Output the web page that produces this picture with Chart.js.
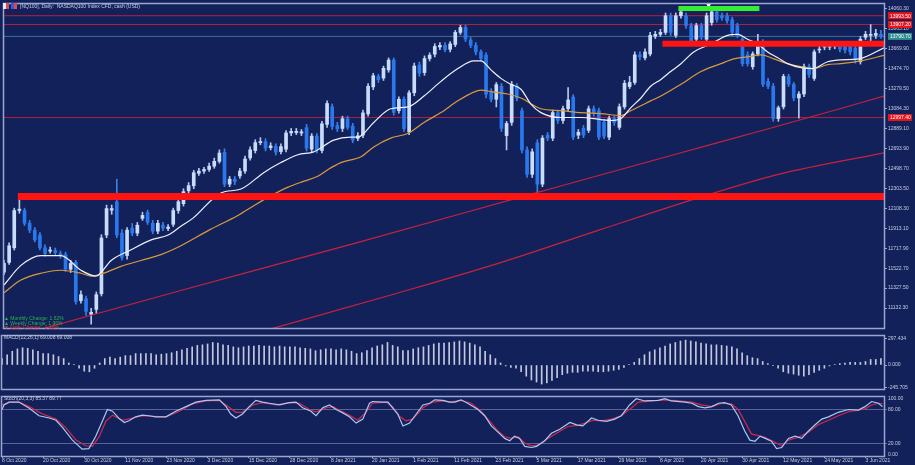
<!DOCTYPE html>
<html>
<head>
<meta charset="utf-8">
<script src="https://cdn.jsdelivr.net/npm/chart.js@4.4.1/dist/chart.umd.min.js"></script>
<style>
  body { margin: 0; background: #13215b; width: 915px; height: 465px; overflow: hidden; position: relative; font-family: 'Liberation Sans', sans-serif; }
  canvas { position: absolute; left: 0; }
  .txt { position: absolute; color: #c8cde0; font-size: 5px; white-space: pre; line-height: 5px; }
  .icon { position: absolute; top: 3px; width: 6px; height: 6px; }
</style>
</head>
<body>
<canvas id="main" width="915" height="332" style="top:0"></canvas>
<canvas id="macd" width="915" height="61" style="top:332px"></canvas>
<canvas id="stoch" width="915" height="72" style="top:393px"></canvas>

<div class="icon" style="left:3px;background:linear-gradient(90deg,#e8e8f0 50%,#d94a5a 50%)"></div>
<div class="icon" style="left:11px;background:linear-gradient(90deg,#3a5ad8 50%,#d94a5a 50%)"></div>
<div class="txt" style="left:20px;top:4px">[NQ100], Daily:  NASDAQ100 Index CFD, cash (USD)</div>
<div class="txt" style="left:4px;top:316px;color:#2fb04f">▲ Monthly Change: 1.62%</div>
<div class="txt" style="left:4px;top:320.5px;color:#2fb04f">▲ Weekly Change: 1.96%</div>
<div class="txt" style="left:4px;top:325px;color:#e83030">▼ Daily Change: -0.15%</div>
<div class="txt" style="left:4px;top:335px">MACD(12,26,1) 69.008 69.008</div>
<div class="txt" style="left:4px;top:396px">Stoch(20,3,3) 85.37 89.77</div>

<script>
// ---- data ----
const dateLabels = ['8 Oct 2020', '20 Oct 2020', '30 Oct 2020', '11 Nov 2020', '23 Nov 2020', '3 Dec 2020',
  '15 Dec 2020', '28 Dec 2020', '8 Jan 2021', '20 Jan 2021', '1 Feb 2021', '11 Feb 2021', '23 Feb 2021',
  '5 Mar 2021', '17 Mar 2021', '29 Mar 2021', '8 Apr 2021', '20 Apr 2021', '30 Apr 2021', '12 May 2021',
  '24 May 2021', '3 Jun 2021'];
const dateTickBars = [0, 8, 16, 24, 32, 40, 48, 56, 64, 72, 80, 88, 96, 104, 112, 120, 128, 136, 144, 152, 160, 168];

const priceTicks = [14060.30, 13865.10, 13669.90, 13474.70, 13279.50, 13084.30, 12889.10, 12693.90,
  12498.70, 12303.50, 12108.30, 11913.10, 11717.90, 11522.70, 11327.50, 11132.30];

const opens = [
  11483,11579,11722,12087,12087,11962,11895,11847,11722,11690,
  11694,11665,11655,11512,11579,11205,11224,11071,11119,11272,
  11847,12090,12173,11866,11646,11914,11866,12010,12068,11962,
  11885,11943,11910,11952,12087,12154,12280,12329,12451,12473,
  12489,12521,12568,12655,12345,12393,12425,12473,12601,12674,
  12751,12760,12703,12712,12664,12687,12846,12850,12845,12898,
  12687,12815,12674,12930,13102,12920,12890,12985,12913,12793,
  12825,13032,13297,13399,13383,13463,13559,13064,13176,12856,
  13239,13511,13437,13574,13617,13687,13703,13665,13712,13830,
  13878,13756,13703,13639,13607,13255,13176,13303,12820,12950,
  13303,13064,12680,12441,12748,12345,12824,12795,13045,12968,
  13083,13198,12824,12891,12872,13083,13064,12950,12805,12987,
  12901,13102,13300,13340,13610,13581,13619,13792,13811,13830,
  13993,13801,13993,13993,13897,13763,13897,13763,13926,14031,
  13993,13993,13955,13897,13763,13610,13495,13619,13734,13351,
  13303,12987,13102,13399,13322,13188,13227,13495,13380,13658,
  13686,13686,13696,13706,13706,13696,13677,13543,13782,13801,
  13801,13811];
const highs = [
  11600,11770,12110,12200,12110,11990,11920,11870,11750,11730,
  11720,11690,11680,11600,11600,11300,11250,11130,11290,11850,
  12140,12140,12393,11900,11920,11960,11970,12070,12090,11990,
  11990,11970,11950,12110,12200,12300,12360,12480,12500,12510,
  12550,12600,12680,12690,12420,12420,12500,12620,12710,12780,
  12800,12790,12750,12740,12740,12870,12890,12890,12880,12930,
  12840,12840,12960,13160,13130,12950,13010,13010,12940,12850,
  13070,13330,13430,13420,13500,13580,13580,13200,13200,13260,
  13530,13540,13600,13630,13720,13730,13730,13740,13850,13900,
  13900,13780,13730,13660,13630,13280,13340,13330,12960,13350,
  13330,13090,12710,12690,12780,12820,12850,13070,13070,13110,
  13290,13220,12880,12920,13110,13110,13090,12980,13010,13010,
  13130,13360,13400,13640,13640,13670,13830,13840,13860,14020,
  14020,14020,14060,14020,13920,13920,13920,14020,14060,14060,
  14020,14020,13980,13920,13790,13640,13640,13811,13760,13380,
  13330,13110,13420,13420,13340,13250,13520,13520,13660,13700,
  13730,13730,13740,13730,13730,13720,13700,13790,13840,13907,
  13860,13850];
const lows = [
  11460,11560,11700,12060,11940,11870,11780,11700,11640,11670,
  11650,11620,11490,11480,11170,11180,11060,10975,11080,11250,
  11820,12050,11820,11600,11610,11840,11840,11990,11950,11860,
  11860,11890,11890,11930,12060,12130,12260,12300,12430,12450,
  12470,12500,12550,12320,12320,12340,12400,12450,12580,12650,
  12730,12670,12680,12630,12640,12660,12820,12830,12820,12670,
  12660,12650,12650,12900,12880,12860,12860,12880,12750,12770,
  12800,13010,13270,13340,13360,13440,13020,13040,12860,12830,
  13210,13400,13410,13550,13590,13660,13640,13640,13690,13810,
  13740,13680,13610,13550,13190,13150,13100,12860,12680,12920,
  13160,12650,12410,12410,12249,12320,12770,12770,12940,12940,
  13060,12780,12790,12800,12850,13010,12780,12790,12780,12920,
  12880,13080,13280,13320,13560,13560,13600,13770,13790,13810,
  13800,13780,13970,13870,13720,13740,13760,13740,13900,13930,
  13950,13920,13800,13780,13500,13500,13470,13600,13300,13280,
  12960,12960,13080,13300,13160,12990,13200,13390,13360,13630,
  13660,13660,13670,13640,13630,13610,13530,13520,13760,13734,
  13770,13770];
const closes = [
  11569,11742,12087,12100,11962,11895,11799,11722,11665,11700,
  11675,11650,11512,11569,11196,11263,11100,11090,11263,11818,
  12106,12106,11847,11627,11895,11866,11943,12039,11972,11885,
  11962,11914,11925,12087,12173,12271,12330,12457,12473,12489,
  12521,12568,12649,12345,12393,12370,12473,12591,12681,12751,
  12762,12697,12719,12658,12712,12846,12862,12862,12857,12697,
  12815,12681,12936,13134,12910,12888,12985,12900,12776,12818,
  13042,13303,13406,13367,13479,13559,13047,13176,12888,13239,
  13501,13431,13574,13607,13693,13703,13661,13718,13830,13878,
  13766,13703,13639,13575,13224,13176,13319,12891,12939,13322,
  13188,12680,12441,12661,12345,12795,12795,13045,12968,13083,
  13169,12805,12853,12824,13083,13035,12805,12815,12987,12949,
  13102,13332,13340,13610,13591,13639,13801,13811,13830,13993,
  13830,13993,14031,13897,13744,13897,13782,13993,14031,13955,
  13974,13945,13830,13801,13524,13524,13619,13734,13322,13303,
  12987,13092,13399,13322,13188,13227,13495,13418,13639,13667,
  13706,13706,13710,13667,13658,13639,13562,13763,13811,13811,
  13820,13790];

// moving averages: [bar, price]
const maFast = [[0,11358],[3.3,11550],[7.2,11646],[11.1,11646],[15,11502],[17.9,11445],[20.9,11598],
  [24.8,11703],[28.7,11799],[32,11847],[34.5,11933],[36.8,12010],[42.3,12259],[46.2,12297],[50.7,12460],
  [54,12556],[57.3,12633],[60.4,12661],[64.3,12776],[67.6,12805],[69,12805],[72.1,12949],[75.4,13083],
  [78.8,13102],[81.9,13207],[85.2,13351],[88.5,13476],[91.6,13552],[93,13552],[94.9,13466],[96.9,13380],
  [98.8,13322],[100.8,13274],[102.7,13131],[104.7,13045],[108.6,12997],[112.5,12997],[116.4,12977],
  [118.3,12968],[120.3,12987],[122.2,13092],[124.2,13188],[126.1,13303],[128.1,13370],[130,13447],
  [132,13524],[134.5,13639],[137.8,13715],[141.1,13801],[143.1,13811],[145,13763],[147,13715],
  [148.9,13639],[150.9,13581],[152.8,13524],[155.4,13485],[157.7,13476],[160.6,13543],[163.2,13562],
  [166.7,13571],[171.6,13680]];
const maSlow = [[0,11282],[3.3,11406],[7.2,11473],[11.1,11502],[15,11473],[17,11445],[18.9,11464],
  [22.8,11540],[26.7,11598],[30.6,11655],[34.5,11742],[40,11895],[45.6,12039],[48.7,12134],[52,12230],
  [55.4,12316],[58.5,12374],[61.2,12422],[63.2,12489],[65.7,12556],[69.6,12613],[72.1,12709],[75.4,12795],
  [78.8,12843],[81.9,12949],[85.2,13045],[88.5,13160],[91.6,13246],[93,13265],[95.5,13246],[98.2,13227],
  [100.8,13188],[104.7,13083],[108.6,13064],[112.5,13045],[116.4,13035],[120.3,13016],[122.2,13064],
  [124.2,13112],[126.1,13160],[128.1,13207],[132,13322],[135.9,13447],[139.8,13524],[142.3,13571],
  [145,13591],[147.6,13610],[150.1,13571],[152.8,13524],[155.4,13495],[157.9,13476],[160.6,13514],
  [163.2,13524],[167.1,13552],[171.6,13605]];
const trendA = [[8,10937],[35,11311],[68,11761],[103,12249],[132,12652],[148,12872],[163,13083],[171.6,13207]];
const trendB = [[50,10900],[77,11282],[97,11579],[116,11895],[136,12221],[151,12441],[171.6,12652]];

const levelPrices = [13993.5, 13907.2, 12997.4];
const lastPrice = 13790.7;
const supportBand = [[2.7,12225],[171.6,12225]];
const resistBand = [[128.4,13720],[171.6,13720]];
const signalBar = [[131.5,14063],[147.3,14063]];
const signalMark = [[137.4,14098]];

const macdValues = [
  66,105,141,165,177,171,156,141,117,117,
  105,87,66,21,6,-33,-63,-69,-33,21,
  66,81,66,81,96,96,117,117,117,117,
  105,111,117,126,141,156,171,186,201,207,
  216,231,225,207,201,186,177,186,195,195,
  201,195,195,186,195,186,186,186,177,171,
  165,147,156,165,165,156,165,156,141,117,
  126,147,177,195,207,231,201,186,147,147,
  165,177,186,201,216,225,225,231,237,246,
  237,225,207,186,141,105,66,21,-9,-24,
  -33,-69,-114,-153,-174,-195,-183,-159,-129,-99,
  -84,-75,-75,-63,-63,-63,-69,-69,-63,-54,
  -45,-24,6,27,66,105,135,156,177,195,
  216,231,246,255,246,237,225,216,207,207,
  201,195,186,165,126,96,75,66,36,15,
  -3,-33,-69,-84,-93,-105,-114,-99,-75,-54,
  -33,-9,6,15,21,27,27,27,36,57,
  57,66];
const macdTickText = ['297.434', '0.000', '-245.705'];

const stochK = [[0,80],[0.4,88],[1.4,93],[3.3,93],[5.3,82],[7.2,69],[9.2,65],[10.5,61],[11.8,48],[13.7,26],
  [15.6,10],[16.9,11],[18.2,32],[19.5,59],[20.5,80],[21.5,77],[22.8,64],[23.8,57],[24.7,60],[26,67],
  [27.3,70],[28.6,69],[29.9,67],[31.9,67],[33.8,77],[35.8,85],[37.7,93],[39.7,96],[42.3,97],[43.6,85],
  [44.5,72],[45.5,65],[46.8,72],[48.1,85],[49.4,96],[50.7,93],[52,91],[54,88],[55.9,92],[57.2,93],
  [58.5,83],[60.1,77],[61.1,69],[62.4,83],[63.7,88],[65,80],[66.3,74],[67.6,67],[68.9,56],[70.2,63],
  [71.5,91],[72.1,94],[74.1,93],[75.1,93],[76,83],[77,72],[78,51],[79.3,56],[80.6,72],[81.9,88],
  [83.2,91],[84.2,97],[85.8,96],[87.1,93],[88.1,93],[89.3,97],[90.6,91],[92.6,80],[93.9,69],[95.2,51],
  [96.5,40],[97.8,29],[98.8,25],[99.7,33],[100.7,29],[101.7,15],[103,13],[104,15],[105.6,25],[106.9,38],
  [108.5,45],[110.5,57],[111.8,53],[113,51],[114.7,65],[116,61],[117.6,59],[119.2,63],[120.5,69],
  [122.1,88],[123.4,99],[125.1,95],[127.7,96],[129,99],[130.2,95],[132.9,93],[134.2,91],[135.5,85],
  [136.8,83],[138.1,85],[139.4,91],[140.6,92],[141.9,88],[143.2,69],[144.5,42],[145.5,26],[146.5,24],
  [147.5,33],[148.5,29],[149.7,24],[150.7,11],[151.7,13],[153,29],[154.3,33],[155.6,29],[156.9,42],
  [158.2,53],[159.5,63],[160.8,67],[162.7,75],[164.7,80],[166.6,79],[167.9,85],[169.2,94],[170.5,91],
  [171.3,85]];
const stochD = [[0,88],[1.4,93],[3.3,93],[5.3,85],[7.9,72],[10.5,63],[12.4,48],[14.4,26],[16.3,16],
  [17.6,15],[18.9,32],[20.2,59],[21.5,70],[23.4,61],[25.4,65],[27.3,69],[29.3,68],[31.9,67],[34.5,77],
  [37.1,90],[39.7,95],[42.3,96],[44.2,84],[45.5,75],[46.8,75],[48.8,88],[50.7,92],[53.3,88],[55.9,92],
  [57.9,91],[59.8,80],[61.1,76],[63.1,83],[64.4,85],[65.6,79],[67.6,70],[69.2,61],[70.8,75],[72.1,91],
  [74.7,93],[76,85],[77.3,68],[78.6,60],[79.9,63],[81.9,83],[83.8,93],[85.8,95],[87.1,93],[89.3,96],
  [91.3,91],[93.2,77],[95.2,56],[96.5,42],[97.8,32],[99.1,29],[100.4,32],[101.7,21],[103,16],[104.3,17],
  [106.2,29],[108.2,40],[110.1,50],[112.1,52],[113.4,56],[115,61],[116.6,60],[118.6,63],[120.5,69],
  [122.5,83],[123.8,93],[126.4,95],[129,97],[131.6,95],[134.2,93],[136.1,88],[138.1,85],[140.1,91],
  [141.9,90],[143.2,80],[144.5,59],[145.8,37],[147.1,34],[148.4,31],[150,24],[151.7,16],[153,26],
  [154.9,31],[156.9,40],[158.8,53],[160.8,61],[162.7,69],[164.7,76],[166.6,79],[167.9,81],[169.2,88],
  [170.5,91],[171.3,90]];
const stochTicks = [100, 80, 20, 0];

// ---- styling ----
const FRAME = '#9aa6d0';
const TXT = '#c8cde0';
const FONT = 'Liberation Sans';
const XMIN = 0, XMAX = 171.6;
Chart.defaults.font.family = FONT;
Chart.defaults.font.size = 5;

const pts = arr => arr.map(p => ({ x: p[0], y: p[1] }));
const bull = opens.map((o, i) => closes[i] >= o);

const framePlugin = {
  id: 'frame',
  afterDraw(chart) {
    const { ctx, chartArea: a } = chart;
    ctx.save();
    ctx.strokeStyle = FRAME;
    ctx.lineWidth = 1.5;
    ctx.strokeRect(a.left - 0.5, a.top - 0.5, a.right - a.left + 1, a.bottom - a.top + 1);
    ctx.restore();
  }
};

const priceBoxes = {
  id: 'priceBoxes',
  afterDraw(chart) {
    const { ctx, chartArea: a } = chart;
    const y = chart.scales.y;
    const boxes = levelPrices.map(v => [v, '#e8141c']).concat([[lastPrice, '#2f8c90']]);
    ctx.save();
    ctx.font = '5px ' + FONT;
    ctx.textBaseline = 'middle';
    boxes.forEach(([v, c]) => {
      const py = y.getPixelForValue(v);
      ctx.fillStyle = c;
      ctx.fillRect(a.right + 4, py - 3.5, 24, 7);
      ctx.fillStyle = '#ffffff';
      ctx.fillText(v.toFixed(2), a.right + 6, py + 0.5);
    });
    ctx.restore();
  }
};

function xScale(show) {
  const s = { type: 'linear', min: XMIN, max: XMAX, offset: false, display: show };
  if (show) {
    Object.assign(s, {
      afterBuildTicks: sc => { sc.ticks = dateTickBars.map(v => ({ value: v })); },
      afterFit: sc => { sc.height = 9; },
      grid: { drawOnChartArea: false, tickLength: 2, color: FRAME },
      border: { display: false },
      ticks: { color: TXT, align: 'start', padding: 0, maxRotation: 0, autoSkip: false,
        callback: (v, i) => dateLabels[i] }
    });
  }
  return s;
}

function yRight(min, max, tickVals, fmt, extra) {
  return Object.assign({
    position: 'right', min: min, max: max,
    afterBuildTicks: sc => { sc.ticks = tickVals.map(v => ({ value: v })); },
    afterFit: sc => { sc.width = 31; },
    grid: { drawOnChartArea: false, tickLength: 3, color: FRAME },
    border: { display: false },
    ticks: { color: TXT, padding: 1, autoSkip: false, callback: fmt }
  }, extra || {});
}

const baseOpts = {
  responsive: false, animation: false, events: [],
  plugins: { legend: { display: false }, tooltip: { enabled: false } }
};

function line(data, color, width, order, extra) {
  return Object.assign({ type: 'line', data: pts(data), borderColor: color, borderWidth: width,
    pointRadius: 0, fill: false, order: order, tension: 0 }, extra || {});
}

// ---- main price panel ----
new Chart(document.getElementById('main'), {
  type: 'bar',
  data: {
    datasets: [
      line(supportBand, '#ff1414', 7, 0, { borderCapStyle: 'butt' }),
      line(resistBand, '#ff1414', 6, 0, { borderCapStyle: 'butt' }),
      line(signalBar, '#33ee33', 5, 0, { borderCapStyle: 'butt' }),
      { type: 'line', data: pts(signalMark), showLine: false, pointStyle: 'triangle', rotation: 180,
        pointRadius: 3, pointBackgroundColor: '#ffffff', pointBorderWidth: 0, order: 0 },
      line(maFast, '#eef1fb', 1.2, 1, { cubicInterpolationMode: 'monotone' }),
      line(maSlow, '#d99a3c', 1.2, 1, { cubicInterpolationMode: 'monotone' }),
      line(trendA, '#c8223c', 1.2, 1, { cubicInterpolationMode: 'monotone' }),
      line(trendB, '#c8223c', 1.2, 1, { cubicInterpolationMode: 'monotone' }),
      {
        data: opens.map((o, i) => ({ x: i, y: [Math.min(o, closes[i]), Math.max(o, closes[i])] })),
        backgroundColor: bull.map(b => b ? '#c8dcfb' : '#2a78ee'),
        barThickness: 3, grouped: false, order: 2
      },
      {
        data: highs.map((h, i) => ({ x: i, y: [lows[i], h] })),
        backgroundColor: bull.map(b => b ? '#b4c8ee' : '#3a80e8'),
        barThickness: 1, grouped: false, order: 3
      },
      ...levelPrices.map(v => line([[XMIN, v], [XMAX, v]], '#b0203f', 1, 4)),
      line([[XMIN, lastPrice], [XMAX, lastPrice]], '#3b6f99', 1, 4)
    ]
  },
  options: Object.assign({}, baseOpts, {
    layout: { padding: { top: 1, bottom: 0, left: 2, right: 0 } },
    scales: {
      x: xScale(false),
      y: yRight(10937, 14108, priceTicks, v => v.toFixed(2))
    }
  }),
  plugins: [framePlugin, priceBoxes]
});

// ---- MACD panel ----
new Chart(document.getElementById('macd'), {
  type: 'bar',
  data: {
    datasets: [{
      data: macdValues.map((v, i) => ({ x: i, y: v })),
      backgroundColor: '#c4c9de', barThickness: 1, grouped: false
    }]
  },
  options: Object.assign({}, baseOpts, {
    layout: { padding: { top: 1, bottom: 0, left: 2, right: 0 } },
    scales: {
      x: xScale(false),
      y: yRight(-245.705, 297.434, [270, 0, -230], (v, i) => macdTickText[i])
    }
  }),
  plugins: [framePlugin]
});

// ---- Stochastic panel ----
new Chart(document.getElementById('stoch'), {
  type: 'line',
  data: {
    datasets: [
      line(stochD, '#d42848', 1.2, 1),
      line(stochK, '#a9c8f3', 1.2, 0)
    ]
  },
  options: Object.assign({}, baseOpts, {
    layout: { padding: { top: 2, bottom: 0, left: 2, right: 0 } },
    scales: {
      x: xScale(true),
      y: yRight(-2, 102, stochTicks, v => v.toFixed(2), {
        grid: {
          drawOnChartArea: true, tickLength: 3,
          color: ctx => (ctx.tick && (ctx.tick.value === 20 || ctx.tick.value === 80)) ? '#56649a' : 'rgba(0,0,0,0)'
        }
      })
    }
  }),
  plugins: [framePlugin]
});
</script>
</body>
</html>
